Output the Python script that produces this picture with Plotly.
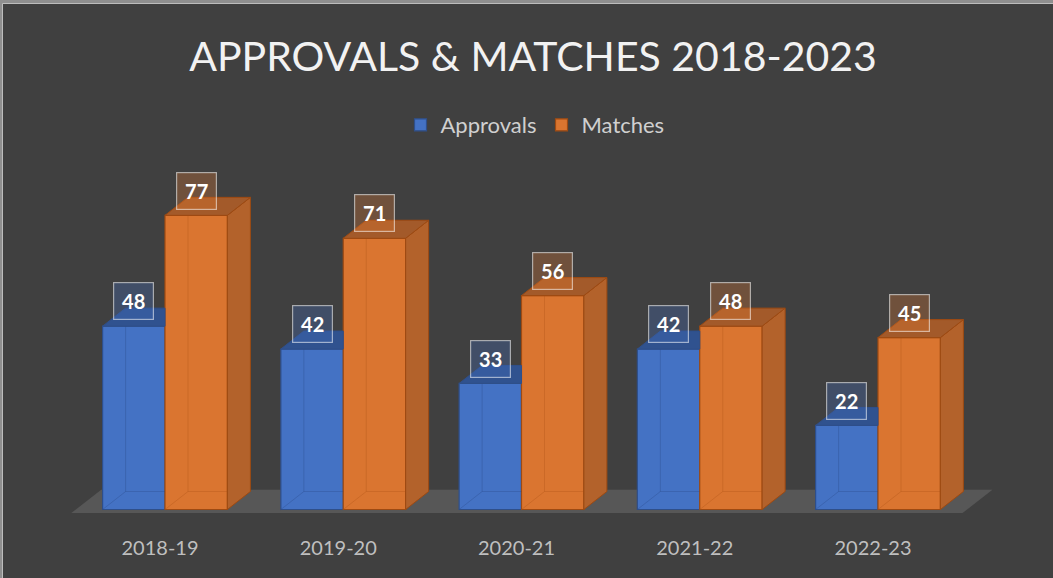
import plotly.graph_objects as go

# ---------------- data ----------------
categories = ["2018-19", "2019-20", "2020-21", "2021-22", "2022-23"]
approvals = [48, 42, 33, 42, 22]
matches = [77, 71, 56, 48, 45]
series_names = ["Approvals", "Matches"]
title_text = "APPROVALS &amp; MATCHES 2018-2023"

# ---------------- style / layout constants ----------------
W_PX, H_PX = 1053, 578
L, R, T, B = 58, 1012, 160, 518          # plot area in pixels
X_ZERO_PX, X_UNIT_PX = 165.0, 178.25      # pixel of category 0, pixels per category
Y_ZERO_PX, Y_UNIT_PX = 509.5, 3.82        # pixel of value 0, pixels per unit

xr0 = (L - X_ZERO_PX) / X_UNIT_PX
xr1 = (R - X_ZERO_PX) / X_UNIT_PX
yr0 = -(B - Y_ZERO_PX) / Y_UNIT_PX
yr1 = (Y_ZERO_PX - T) / Y_UNIT_PX

BAR_W = 0.35                  # each bar width (category units)
DX = 23 / X_UNIT_PX           # 3D depth offset in x units
DY = 18 / Y_UNIT_PX           # 3D depth offset in y units
LABEL_OFF = 6.5
TICK_SHIFT = -5 / X_UNIT_PX   # category labels sit slightly left of bar groups

BG = "#404040"
FLOOR = "#575757"
FONT = "Lato"

BLUE_FRONT, BLUE_TOP, BLUE_EDGE = "#4472C4", "#30528F", "#2F4F8A"
OR_FRONT, OR_TOP, OR_SIDE, OR_EDGE = "#DA7530", "#A35A2A", "#B3622B", "#9E4A12"


def px2paper_x(px):
    return (px - L) / (R - L)


def px2paper_y(py):
    return (B - py) / (B - T)


xs = list(range(len(categories)))

fig = go.Figure()

# front faces as bars
fig.add_trace(go.Bar(
    x=xs, y=approvals, name=series_names[0],
    marker=dict(color=BLUE_FRONT, line=dict(color=BLUE_EDGE, width=1.2)),
    hoverinfo="skip",
))
fig.add_trace(go.Bar(
    x=xs, y=matches, name=series_names[1],
    marker=dict(color=OR_FRONT, line=dict(color=OR_EDGE, width=1.2)),
    hoverinfo="skip",
))


def poly_trace(xx, yy, fill, edge):
    return go.Scatter(x=xx, y=yy, mode="lines", fill="toself", fillcolor=fill,
                      line=dict(color=edge, width=1), showlegend=False,
                      hoverinfo="skip")


def line_trace(xx, yy, color):
    return go.Scatter(x=xx, y=yy, mode="lines", line=dict(color=color, width=1),
                      showlegend=False, hoverinfo="skip")


# blue: visible top (clipped where hidden behind orange front), inner edges
bt_x, bt_y, bl_x, bl_y = [], [], [], []
for i, (a, m) in enumerate(zip(approvals, matches)):
    xl, xr = i - BAR_W, i
    if m >= a + DY:
        bt_x += [xl, xr, xr, xl + DX, xl, None]
        bt_y += [a, a, a + DY, a + DY, a, None]
    else:
        bt_x += [xl, xr, xr + DX, xl + DX, xl, None]
        bt_y += [a, a, a + DY, a + DY, a, None]
    bl_x += [xl, xl + DX, xl + DX, None, xl + DX, xr, None]
    bl_y += [0, DY, a + DY, None, DY, DY, None]
fig.add_trace(line_trace(bl_x, bl_y, "rgba(40,70,130,0.3)"))
fig.add_trace(poly_trace(bt_x, bt_y, BLUE_TOP, BLUE_EDGE))

# orange: side, top, inner edges
os_x, os_y, ot_x, ot_y, ol_x, ol_y = [], [], [], [], [], []
for i, m in enumerate(matches):
    xl, xr = i, i + BAR_W
    os_x += [xr, xr + DX, xr + DX, xr, xr, None]
    os_y += [0, DY, m + DY, m, 0, None]
    ot_x += [xl, xr, xr + DX, xl + DX, xl, None]
    ot_y += [m, m, m + DY, m + DY, m, None]
    ol_x += [xl, xl + DX, xl + DX, None, xl + DX, xr + DX, None]
    ol_y += [0, DY, m + DY, None, DY, DY, None]
fig.add_trace(line_trace(ol_x, ol_y, "rgba(170,80,20,0.3)"))
fig.add_trace(poly_trace(os_x, os_y, OR_SIDE, OR_EDGE))
fig.add_trace(poly_trace(ot_x, ot_y, OR_TOP, OR_EDGE))

# data labels
annotations = []
for vals, off, fill in ((approvals, -BAR_W / 2, "rgba(68,114,196,0.30)"),
                        (matches, BAR_W / 2, "rgba(237,125,49,0.28)")):
    for i, v in enumerate(vals):
        annotations.append(dict(
            x=i + off, y=v + LABEL_OFF, xref="x", yref="y",
            text=f"<b>{v}</b>", showarrow=False,
            font=dict(family=FONT, size=20, color="white"),
            bgcolor=fill, bordercolor="rgba(255,255,255,0.55)", borderwidth=1.2,
            borderpad=4, width=31, height=28, xanchor="center", yanchor="middle",
        ))

# floor (plane at value 0)
fx0, fx1 = -0.5, len(categories) - 0.5
d0, d1 = -0.2, 1.1
floor_pts = [(fx0 + d0 * DX, d0 * DY), (fx1 + d0 * DX, d0 * DY),
             (fx1 + d1 * DX, d1 * DY), (fx0 + d1 * DX, d1 * DY)]
floor_path = "M " + " L ".join(f"{px},{py}" for px, py in floor_pts) + " Z"

shapes = [
    # chart background with light frame
    dict(type="rect", xref="paper", yref="paper",
         x0=px2paper_x(2.5), x1=px2paper_x(1060), y0=px2paper_y(590), y1=px2paper_y(3.5),
         fillcolor=BG, line=dict(color="#bdbdbd", width=1), layer="below"),
    dict(type="path", path=floor_path, xref="x", yref="y",
         fillcolor=FLOOR, line=dict(width=0), layer="below"),
]

fig.update_layout(
    width=W_PX, height=H_PX,
    margin=dict(l=L, r=W_PX - R, t=T, b=H_PX - B, autoexpand=False),
    paper_bgcolor="#8f8f8f",
    plot_bgcolor="rgba(0,0,0,0)",
    barmode="group", bargap=0.3, bargroupgap=0,
    title=dict(text=title_text, x=533 / W_PX, xref="container", xanchor="center",
               y=1 - 57 / H_PX, yref="container", yanchor="middle",
               font=dict(family=FONT, size=41, color="#f2f2f2")),
    legend=dict(orientation="h", x=px2paper_x(535), xanchor="center",
                y=px2paper_y(125), yanchor="middle",
                font=dict(family=FONT, size=22, color="#d0d0d0"),
                bgcolor="rgba(0,0,0,0)", itemclick=False, itemdoubleclick=False,
                traceorder="normal"),
    xaxis=dict(range=[xr0, xr1], tickvals=[x + TICK_SHIFT for x in xs],
               ticktext=categories,
               showgrid=False, zeroline=False, showline=False, ticks="",
               tickfont=dict(family=FONT, size=20, color="#bfbfbf"),
               ticklabelstandoff=16, fixedrange=True),
    yaxis=dict(range=[yr0, yr1], visible=False, showgrid=False, zeroline=False,
               fixedrange=True),
    shapes=shapes,
    annotations=annotations,
    showlegend=True,
)

fig.write_html("out.html", config={"displayModeBar": False},
               post_script="document.body.style.margin='0';")
